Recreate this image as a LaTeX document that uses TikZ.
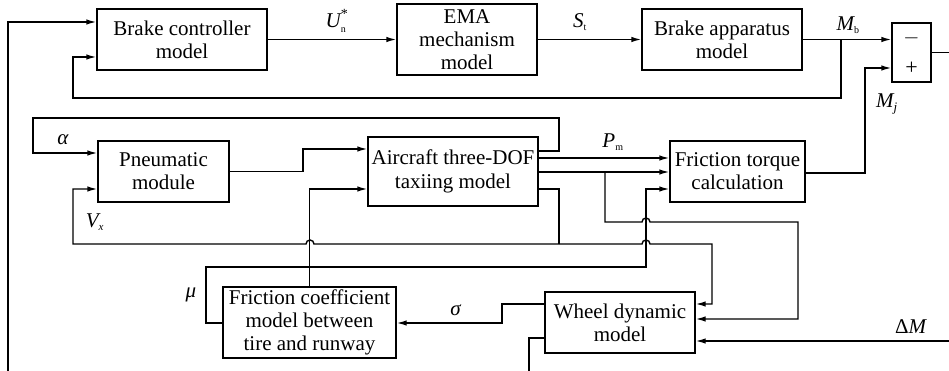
\documentclass[tikz,border=0pt]{standalone}
\usepackage{fontspec}
\setmainfont{Liberation Serif}
\usetikzlibrary{arrows.meta}
\begin{document}
\begin{tikzpicture}[x=1pt,y=-1pt,
  blk/.style={draw, line width=1.4pt, inner sep=0pt, align=center, font=\fontsize{21}{23.3}\selectfont},
  ln/.style={line width=1.4pt},
  arr/.style={ln, -{Latex[length=10pt,width=5.5pt]}},
  lbl/.style={inner sep=0pt, font=\fontsize{21}{23}\selectfont},
  sgn/.style={inner sep=0pt, font=\fontsize{22}{22}\selectfont}]
\useasboundingbox (0,0) rectangle (949,371);
% blocks
\node[blk, minimum width=170pt, minimum height=61pt] (bc) at (182,39.5) {Brake controller\\model};
\node[blk, minimum width=140pt, minimum height=71pt] (ema) at (467,39.5) {EMA\\mechanism\\model};
\node[blk, minimum width=160pt, minimum height=61pt] (ba) at (722,39.5) {Brake apparatus\\model};
\node[draw, line width=1.4pt, inner sep=0pt, minimum width=39pt, minimum height=59pt] (sum) at (911.5,52.5) {};
\node[sgn] (minus) at (911.5,38) {$-$};
\node[sgn] (plus) at (911.5,68) {+};
\node[blk, minimum width=131pt, minimum height=61pt] (pn) at (163.5,171.5) {Pneumatic\\module};
\node[blk, minimum width=170pt, minimum height=69pt] (ac) at (453,171.5) {Aircraft three-DOF\\taxiing model};
\node[blk, minimum width=135pt, minimum height=61pt] (ft) at (737.5,171.5) {Friction torque\\calculation};
\node[blk, minimum width=173pt, minimum height=71pt] (fc) at (309.5,322.5) {Friction coefficient\\model between\\tire and runway};
\node[blk, minimum width=150pt, minimum height=61pt] (wd) at (620,322.5) {Wheel dynamic\\model};
% labels
\node[lbl] (lU) at (337,21) {$\mbox{\itshape U}_{\mbox{\fontsize{10}{10}\selectfont n}}^{\mbox{\fontsize{14}{14}\selectfont *}}$};
\node[lbl] (lS) at (580,22) {$\mbox{\itshape S}_{\mbox{\fontsize{10}{10}\selectfont t}}$};
\node[lbl] (lMb) at (848,25) {$\mbox{\itshape M}_{\mbox{\fontsize{10}{10}\selectfont b}}$};
\node[lbl] (lMj) at (887,104) {$\mbox{\itshape M}_{\mbox{\fontsize{13}{13}\selectfont\itshape j}}$};
\node[lbl] (lP) at (613,142) {$\mbox{\itshape P}_{\mbox{\fontsize{10}{10}\selectfont m}}$};
\node[lbl] (la) at (63,140) {\textit{α}};
\node[lbl] (lV) at (95,222) {$\mbox{\itshape V}_{\mbox{\fontsize{11}{11}\selectfont\itshape x}}$};
\node[lbl] (lmu) at (191,295) {\textit{μ}};
\node[lbl] (ls) at (456,310) {\textit{σ}};
\node[lbl] (lD) at (911,327) {Δ\textit{M}};
% coordinates
\coordinate (fb) at (841,39.5);
\coordinate (left0) at (8,371);
\coordinate (out0) at (949,52.5);
\coordinate (dm0) at (949,341);
\coordinate (bot0) at (529,371);
\coordinate (j1) at (559,244);
\coordinate (j2) at (605,172);
% top chain
\draw[arr] (bc.east) -- (ema.west);
\draw[arr] (ema.east) -- (ba.west);
\draw[arr] (ba.east) -- (sum.west |- ba.east);
\draw[arr] (fb) -- (841,98) -- (73,98) -- (73,57) -- (bc.west |- 0,57);
\draw[arr] (left0) -- (8,22) -- (bc.west |- 0,22);
\draw[ln] (sum.east) -- (out0);
\draw[arr] (ft.east |- 0,173) -- (865,173) -- (865,68) -- (sum.west |- 0,68);
% middle
\draw[arr] (pn.east) -- (303,171.5) -- (303,149) -- (ac.west |- 0,149);
\draw[arr] (ac.east |- 0,151) -- (559,151) -- (559,118) -- (33,118) -- (33,153) -- (pn.west |- 0,153);
\draw[arr] (ac.east |- 0,158) -- (ft.west |- 0,158);
\draw[arr] (ac.east |- 0,172) -- (ft.west |- 0,172);
\draw[arr] (j2) -- (605,222) -- (642,222) arc[start angle=180,end angle=0,radius=4pt] -- (798,222) -- (798,319) -- (wd.east |- 0,319);
\draw[ln] (ac.east |- 0,189) -- (559,189) -- (j1);
\draw[arr] (j1) -- (314,244) arc[start angle=0,end angle=180,radius=4pt] -- (73,244) -- (73,189) -- (pn.west |- 0,189);
\draw[arr] (j1) -- (642,244) arc[start angle=180,end angle=0,radius=4pt] -- (712,244) -- (712,304) -- (wd.east |- 0,304);
\draw[arr] (fc.north) -- (fc.north |- 0,189) -- (ac.west |- 0,189);
\draw[arr] (fc.west |- 0,323) -- (206,323) -- (206,267) -- (646,267) -- (646,189) -- (ft.west |- 0,189);
% bottom
\draw[arr] (wd.west |- 0,304) -- (502,304) -- (502,323) -- (fc.east |- 0,323);
\draw[ln] (wd.west |- 0,338) -- (529,338) -- (bot0);
\draw[arr] (dm0) -- (wd.east |- 0,341);
\end{tikzpicture}
\end{document}
